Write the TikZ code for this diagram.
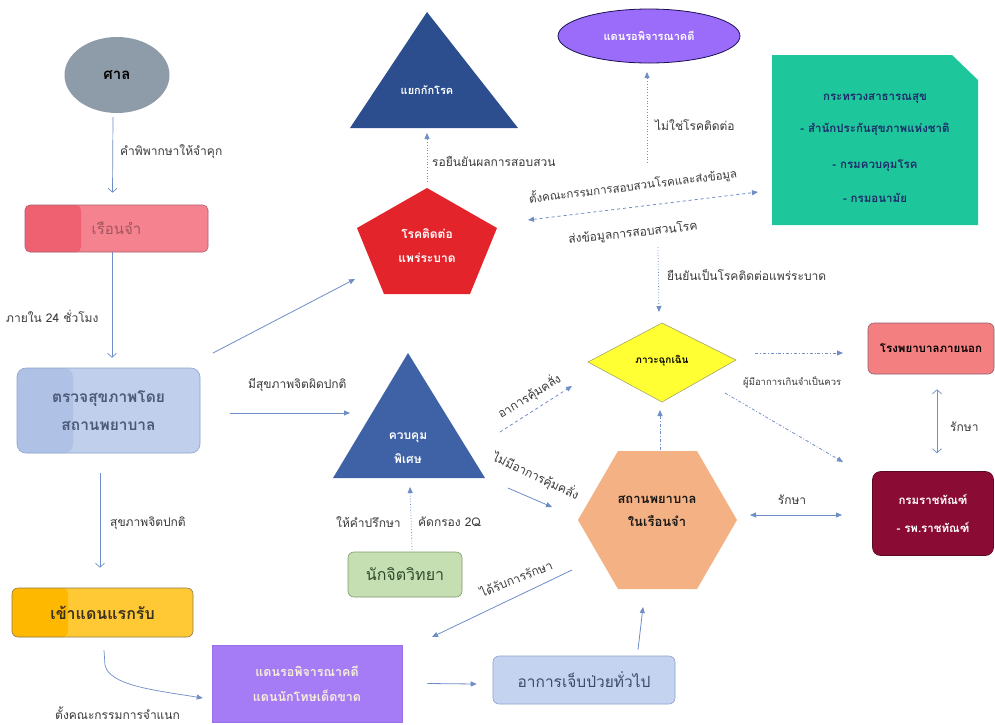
\documentclass[tikz,border=0pt]{standalone}
\usepackage{fontspec}
\newfontfamily\thai[Script=Thai]{Loma}
\usetikzlibrary{arrows.meta,shapes.geometric}
\definecolor{courtc}{HTML}{8E9BA8}
\definecolor{prisonc}{HTML}{F4838F}
\definecolor{prisond}{HTML}{EF6070}
\definecolor{prisonb}{HTML}{A86070}
\definecolor{prisont}{HTML}{A4545F}
\definecolor{examc}{HTML}{BFCFEC}
\definecolor{examd}{HTML}{AFC1E4}
\definecolor{examb}{HTML}{8EA4CF}
\definecolor{examt}{HTML}{4B5A78}
\definecolor{recvc}{HTML}{FFC935}
\definecolor{recvd}{HTML}{FFB800}
\definecolor{recvb}{HTML}{8F7A48}
\definecolor{recvt}{HTML}{3A3020}
\definecolor{purpc}{HTML}{A67CF6}
\definecolor{purpb}{HTML}{9A70E8}
\definecolor{purpt}{HTML}{F7EED8}
\definecolor{illc}{HTML}{C4D3EF}
\definecolor{illb}{HTML}{8DA2CF}
\definecolor{illt}{HTML}{3C4A66}
\definecolor{psyc}{HTML}{C5DFB3}
\definecolor{psyb}{HTML}{7E9C6A}
\definecolor{psyt}{HTML}{2E4A2C}
\definecolor{ctrlc}{HTML}{3F62A6}
\definecolor{isoc}{HTML}{2C4E8E}
\definecolor{pentc}{HTML}{E3242B}
\definecolor{ellc}{HTML}{9B6BFA}
\definecolor{ellb}{HTML}{1C1050}
\definecolor{tealc}{HTML}{1DC79B}
\definecolor{tealt}{HTML}{1F2A6B}
\definecolor{diamc}{HTML}{FFFF33}
\definecolor{diamb}{HTML}{9A9A60}
\definecolor{hexc}{HTML}{F4B183}
\definecolor{hospc}{HTML}{F47F80}
\definecolor{hospb}{HTML}{8C6070}
\definecolor{corrc}{HTML}{8A0C35}
\definecolor{corrb}{HTML}{5A0A20}
\definecolor{arrc}{HTML}{6F8DC6}
\definecolor{labc}{HTML}{3A3A3A}
\begin{document}
\begin{tikzpicture}[x=1pt,y=-1pt,
  every node/.style={font=\thai},
  lbl/.style={inner sep=0pt, text=labc, font=\thai\fontsize{12}{13}\selectfont},
  boxtxt/.style={font=\thai\bfseries\fontsize{#1}{#1}\selectfont},
  sarr/.style={draw=arrc, line width=0.8pt, -{Triangle[length=6pt,width=5pt]}},
  varr/.style={draw=arrc, line width=0.7pt, -{Straight Barb[length=4pt,width=9pt]}},
  dotarr/.style={sarr, dotted},
  dasharr/.style={sarr, dashed},
  ddarr/.style={sarr, dash dot},
  twotone/.style={path picture={\fill[#1] (path picture bounding box.south west) rectangle ([xshift=56pt]path picture bounding box.north west);}}
]
\useasboundingbox (0,0) rectangle (995,724);
\fill[white] (0,0) rectangle (995,724);

% ---------- left column ----------
\node[ellipse, fill=courtc, minimum width=105pt, minimum height=76pt, inner sep=0pt, boxtxt=15] (court) at (117,75) {ศาล};

\node[rounded corners=5pt, draw=prisonb, line width=0.6pt, fill=prisonc, twotone=prisond,
  minimum width=183pt, minimum height=47pt, inner sep=0pt, text=prisont,
  font=\thai\fontsize{15}{15}\selectfont] (prison) at (116.5,228.5) {เรือนจำ};

\node[rounded corners=9pt, draw=examb, line width=0.6pt, fill=examc, twotone=examd,
  minimum width=183pt, minimum height=85pt, inner sep=0pt, text=examt, align=center,
  boxtxt=15.5] (exam) at (108.5,410.5) {ตรวจสุขภาพโดย\\[12pt]สถานพยาบาล};

\node[rounded corners=6pt, draw=recvb, line width=0.6pt, fill=recvc, twotone=recvd,
  minimum width=181pt, minimum height=49pt, inner sep=0pt, text=recvt,
  boxtxt=16] (recv) at (102.5,612.5) {เข้าแดนแรกรับ};

\node[draw=purpb, line width=0.5pt, fill=purpc, minimum width=190pt, minimum height=77pt,
  inner sep=0pt, text=purpt, align=center, boxtxt=12.5] (purp) at (307,683.5)
  {แดนรอพิจารณาคดี\\[13pt]แดนนักโทษเด็ดขาด};

\node[rounded corners=6pt, draw=illb, line width=0.6pt, fill=illc, minimum width=182pt,
  minimum height=48pt, inner sep=0pt, text=illt, font=\thai\fontsize{15.5}{15.5}\selectfont] (ill) at (584,680) {อาการเจ็บป่วยทั่วไป};

\node[rounded corners=6pt, draw=psyb, line width=0.6pt, fill=psyc, minimum width=114pt,
  minimum height=45pt, inner sep=0pt, text=psyt, font=\thai\fontsize{16}{16}\selectfont] (psy) at (405,574.5) {นักจิตวิทยา};

% ---------- shapes drawn directly ----------
\fill[isoc] (427,12) -- (518,128) -- (350,128) -- cycle;
\node[text=white, boxtxt=11] (iso) at (427,90) {แยกกักโรค};

\fill[pentc] (427,188) -- (497,228) -- (470,294) -- (384,294) -- (357,228) -- cycle;
\node[text=white, boxtxt=12, align=center] (pent) at (427,246) {โรคติดต่อ\\[12pt]แพร่ระบาด};

\fill[ctrlc] (408,353) -- (485,478) -- (333,478) -- cycle;
\node[text=white, boxtxt=12, align=center] (ctrl) at (408,448) {ควบคุม\\[10pt]พิเศษ};

\node[ellipse, fill=ellc, draw=ellb, line width=0.8pt, minimum width=182pt, minimum height=54pt,
  inner sep=0pt, text=white, boxtxt=11] (ell) at (649,36) {แดนรอพิจารณาคดี};

\fill[tealc] (772,55) -- (952,55) -- (978,80) -- (978,225) -- (772,225) -- cycle;
\node[text=tealt, boxtxt=11.5, align=center] (teal) at (875,148)
  {กระทรวงสาธารณสุข\\[19pt]- สำนักประกันสุขภาพแห่งชาติ\\[23pt]- กรมควบคุมโรค\\[21pt]- กรมอนามัย};

\filldraw[fill=diamc, draw=diamb, line width=0.5pt] (588,362) -- (662,323) -- (736,360) -- (662,402) -- cycle;
\node[text=black, boxtxt=10] (diam) at (662,361) {ภาวะฉุกเฉิน};

\fill[hexc] (578,520) -- (618,451) -- (697,451) -- (737,520) -- (697,589) -- (618,589) -- cycle;
\node[text=black!90, boxtxt=13, align=center] (hex) at (657,511) {สถานพยาบาล\\[10pt]ในเรือนจำ};

\node[rounded corners=6pt, draw=hospb, line width=0.6pt, fill=hospc, minimum width=126pt,
  minimum height=51pt, inner sep=0pt, text=black, boxtxt=11.5] (hosp) at (931,348.5) {โรงพยาบาลภายนอก};

\node[rounded corners=8pt, draw=corrb, line width=0.6pt, fill=corrc, minimum width=121pt,
  minimum height=84pt, inner sep=0pt, text=white, align=center, boxtxt=11.5] (corr) at (933,513.5)
  {กรมราชทัณฑ์\\[16pt]- รพ.ราชทัณฑ์};

% ---------- connector end points ----------
\coordinate (pentTop) at (427,182);
\coordinate (isoBot) at (427,133);
\coordinate (pentIn) at (355,279);
\coordinate (examOut) at (213,353);
\coordinate (ellIn) at (647,72);
\coordinate (notSrc) at (647,163);
\coordinate (invL) at (528,220);
\coordinate (invR) at (758,192);
\coordinate (confSrc) at (658,247);
\coordinate (diamTop) at (659,312);
\coordinate (diamR) at (755,353);
\coordinate (hospIn) at (843,353);
\coordinate (diamBR) at (725,393);
\coordinate (corrIn) at (843,462);
\coordinate (hexTop) at (660,450);
\coordinate (diamBot) at (660,410);
\coordinate (ctrlR) at (500,432);
\coordinate (diamIn) at (572,386);
\coordinate (ctrlR2) at (508,488);
\coordinate (hexIn) at (552,507);
\coordinate (hexOut) at (572,570);
\coordinate (purpIn) at (432,637);
\coordinate (hexBot) at (643,607);
\coordinate (ctrlBot) at (410,487);
\coordinate (ctrlIn) at (350,413);
\coordinate (hexR) at (750,515);
\coordinate (corrL) at (842,515);

% ---------- connectors ----------
\draw[varr] ([xshift=-4pt,yshift=-4pt]court.south) -- ([xshift=-4pt,yshift=12pt]prison.north);
\node[lbl, anchor=west] (l1) at (120,152) {คำพิพากษาให้จำคุก};

\draw[varr] ([xshift=-4.5pt]prison.south) -- ([xshift=3.5pt,yshift=10pt]exam.north);
\node[lbl, anchor=west] (l2) at (6,316) {ภายใน 24 ชั่วโมง};

\draw[varr] ([xshift=-8.5pt,yshift=-20pt]exam.south) -- ([xshift=-2.5pt,yshift=20pt]recv.north);
\node[lbl, anchor=west] (l3) at (110,523) {สุขภาพจิตปกติ};

\draw[sarr, line width=0.7pt] ([xshift=1.5pt,yshift=-13pt]recv.south) -- ++(1,15) .. controls +(5,20) and +(-50,-8) .. ([xshift=-9pt,yshift=-14.5pt]purp.west);
\node[lbl, anchor=west] (l4) at (55,713) {ตั้งคณะกรรมการจำแนก};

\draw[sarr] ([xshift=25pt]purp.east) -- ([xshift=-16pt,yshift=-4pt]ill.west);
\draw[sarr] ([xshift=54pt,yshift=6pt]ill.north) -- (hexBot);

\draw[dotarr] ([xshift=7pt,yshift=2pt]psy.north) -- (ctrlBot);
\node[lbl, anchor=west] (l5) at (336,522) {ให้คำปรึกษา};
\node[lbl, anchor=west] (l6) at (418,522) {คัดกรอง 2Q};

\draw[sarr] ([xshift=30pt,yshift=-2.5pt]exam.east) -- (ctrlIn);
\node[lbl, anchor=west] (l7) at (248,385) {มีสุขภาพจิตผิดปกติ};

\draw[sarr] (examOut) -- (pentIn);

\draw[dotarr] (pentTop) -- (isoBot);
\node[lbl, anchor=west] (l8) at (432,161) {รอยืนยันผลการสอบสวน};

\draw[dotarr] (notSrc) -- (ellIn);
\node[lbl, anchor=west] (l9) at (655,125) {ไม่ใช่โรคติดต่อ};

\draw[sarr, dashed, {Triangle[length=6pt,width=5pt]}-{Triangle[length=6pt,width=5pt]}] (invL) -- (invR);
\node[lbl, rotate=7, font=\thai\fontsize{11.5}{12}\selectfont] (l10) at (633,186) {ตั้งคณะกรรมการสอบสวนโรคและส่งข้อมูล};
\node[lbl, rotate=6] (l11) at (633,233) {ส่งข้อมูลการสอบสวนโรค};

\draw[dotarr] (confSrc) -- (diamTop);
\node[lbl, anchor=west] (l12) at (667,275) {ยืนยันเป็นโรคติดต่อแพร่ระบาด};

\draw[ddarr] (diamR) -- (hospIn);
\node[lbl, anchor=west, font=\thai\fontsize{9.5}{10}\selectfont] (l13) at (743,382) {ผู้มีอาการเกินจำเป็นควร};

\draw[dasharr, dash dot] (diamBR) -- (corrIn);

\draw[varr, {Straight Barb[length=4pt,width=9pt]}-{Straight Barb[length=4pt,width=9pt]}] ([xshift=6pt,yshift=-15pt]hosp.south) -- ([xshift=4pt,yshift=18pt]corr.north);
\node[lbl, anchor=west] (l14) at (950,427) {รักษา};

\draw[sarr, {Triangle[length=6pt,width=5pt]}-{Triangle[length=6pt,width=5pt]}] (hexR) -- (corrL);
\node[lbl] (l15) at (792,500) {รักษา};

\draw[ddarr] (hexTop) -- (diamBot);

\draw[dasharr] (ctrlR) -- (diamIn);
\node[lbl, rotate=32] (l16) at (529,396) {อาการคุ้มคลั่ง};

\draw[sarr] (ctrlR2) -- (hexIn);
\node[lbl, rotate=-25] (l17) at (536,476) {ไม่มีอาการคุ้มคลั่ง};

\draw[sarr] (hexOut) -- (purpIn);
\node[lbl, rotate=22] (l18) at (516,578) {ได้รับการรักษา};
\end{tikzpicture}
\end{document}
